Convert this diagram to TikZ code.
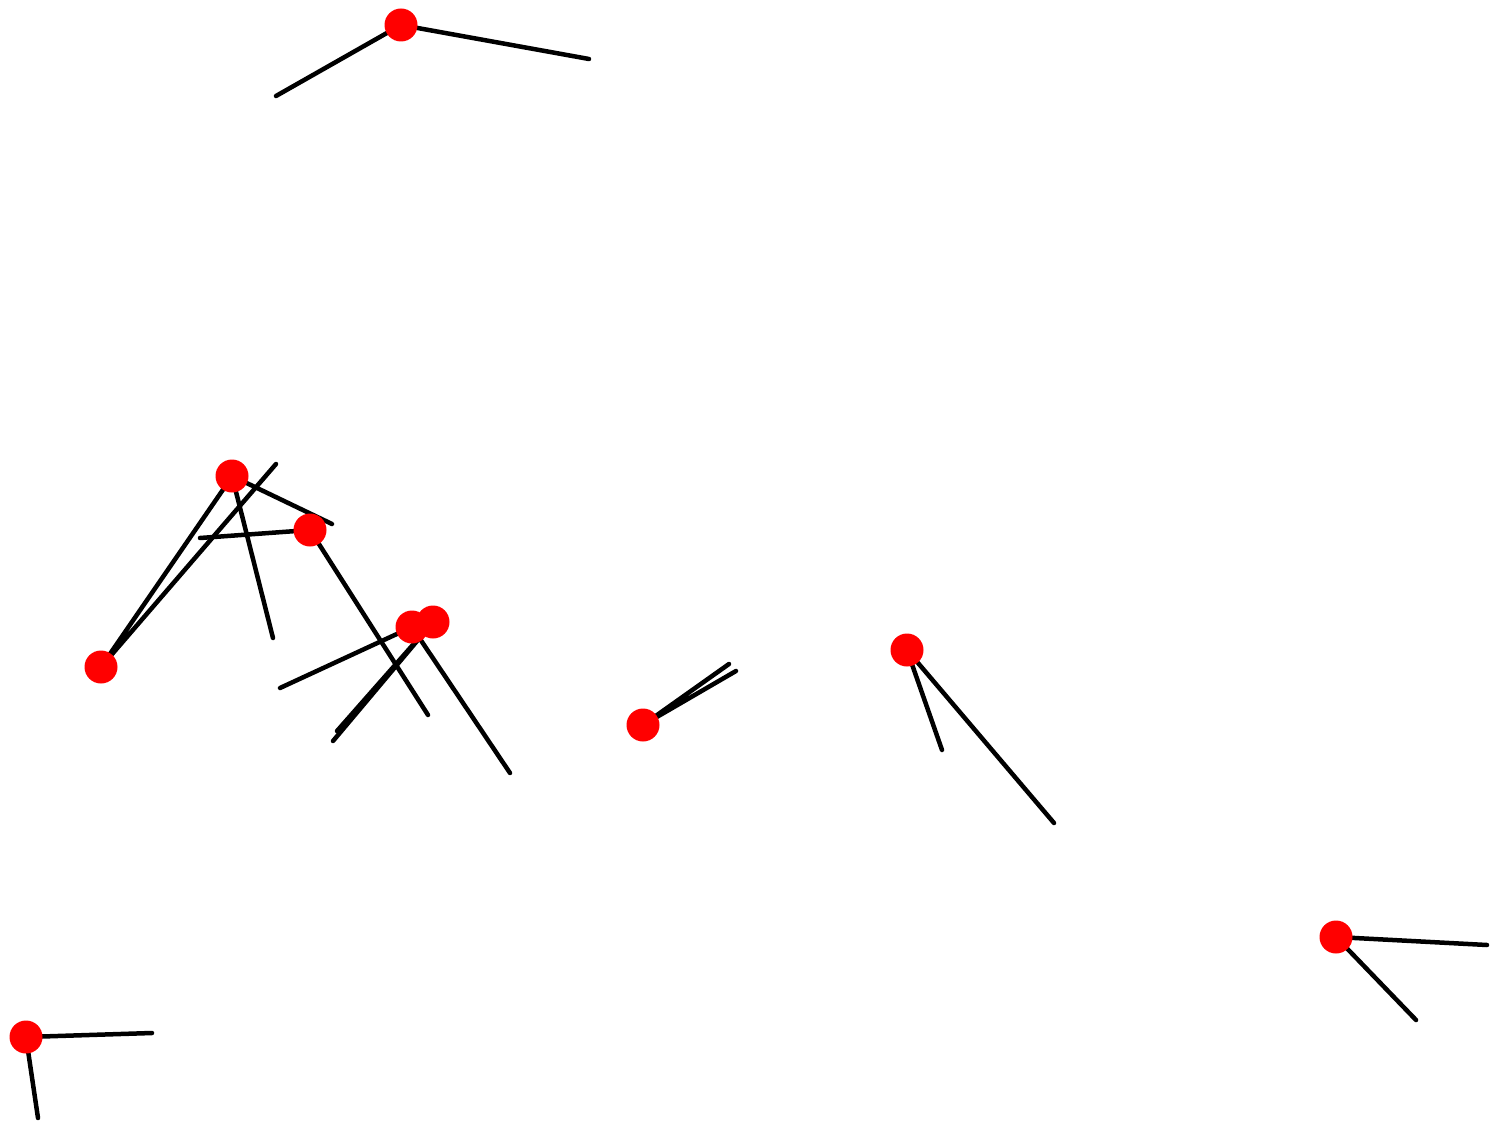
\documentclass[tikz,border=0pt]{standalone}
\usepackage{xcolor}
\definecolor{dotred}{rgb}{1.0, 0.0, 0.0}
\usepackage{tikz}
\usetikzlibrary{backgrounds}
\tikzset{
  joint/.style={circle,fill=dotred,inner sep=0pt,minimum size=0.66cm},
  rod/.style={line width=0.09cm,line cap=round,draw=black}
}

\begin{document}
\begin{tikzpicture}
  \useasboundingbox (0,0) rectangle (29.94,-22.58);

  % joints
  \node[joint] (A) at (8.02,-0.50) {};
  \node[joint] (B) at (4.64,-9.52) {};
  \node[joint] (C) at (2.02,-13.34) {};
  \node[joint] (D) at (6.20,-10.60) {};
  \node[joint] (F) at (8.66,-12.44) {};
  \node[joint] (E) at (8.24,-12.54) {};
  \node[joint] (G) at (12.86,-14.50) {};
  \node[joint] (H) at (18.14,-13.00) {};
  \node[joint] (I) at (26.72,-18.74) {};
  \node[joint] (J) at (0.52,-20.74) {};

  % free ends
  \coordinate (a1) at (5.52,-1.92);  \coordinate (a2) at (11.78,-1.18);
  \coordinate (b1) at (5.46,-12.76); \coordinate (b2) at (6.64,-10.48);
  \coordinate (c1) at (5.52,-9.28);  \coordinate (c2) at (4.62,-9.56);
  \coordinate (d1) at (4.00,-10.76); \coordinate (d2) at (8.56,-14.30);
  \coordinate (e1) at (10.20,-15.46); \coordinate (e2) at (5.60,-13.76);
  \coordinate (f1) at (6.74,-14.62); \coordinate (f2) at (6.66,-14.82);
  \coordinate (g1) at (14.58,-13.28); \coordinate (g2) at (14.72,-13.42);
  \coordinate (h1) at (18.84,-15.00); \coordinate (h2) at (21.08,-16.46);
  \coordinate (i1) at (29.74,-18.90); \coordinate (i2) at (28.32,-20.40);
  \coordinate (j1) at (3.04,-20.66); \coordinate (j2) at (0.76,-22.36);

  \begin{scope}[on background layer]
    \draw[rod] (A.center) -- (a1) (A.center) -- (a2);
    \draw[rod] (B.center) -- (b1) (B.center) -- (b2);
    \draw[rod] (C.center) -- (c1) (C.center) -- (c2);
    \draw[rod] (D.center) -- (d1) (D.center) -- (d2);
    \draw[rod] (E.center) -- (e1) (E.center) -- (e2);
    \draw[rod] (F.center) -- (f1) (F.center) -- (f2);
    \draw[rod] (G.center) -- (g1) (G.center) -- (g2);
    \draw[rod] (H.center) -- (h1) (H.center) -- (h2);
    \draw[rod] (I.center) -- (i1) (I.center) -- (i2);
    \draw[rod] (J.center) -- (j1) (J.center) -- (j2);
  \end{scope}
\end{tikzpicture}
\end{document}
